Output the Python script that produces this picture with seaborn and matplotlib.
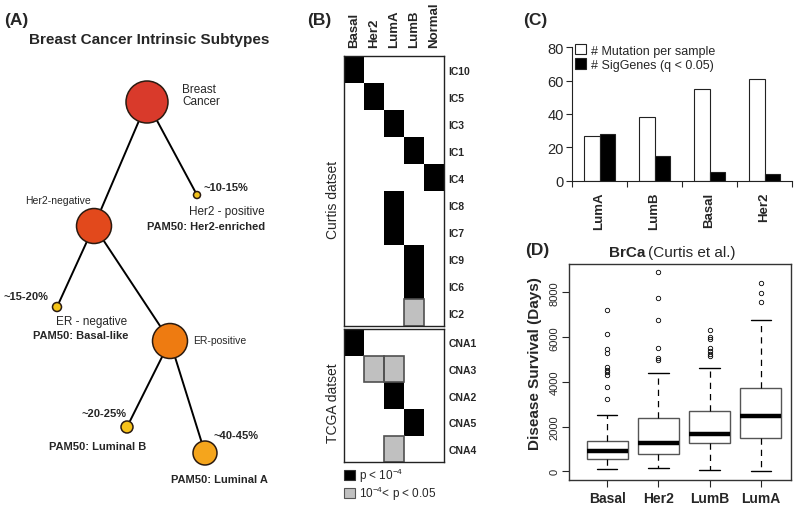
import numpy as np
import pandas as pd
import seaborn as sns
import matplotlib.pyplot as plt
from matplotlib.patches import Circle, Rectangle, Patch
from matplotlib.colors import ListedColormap

# (A) subtype tree
node_names = ['bc', 'her2neg', 'her2pos', 'basal', 'erpos', 'lumb', 'luma']
node_x = [147, 94, 197, 57, 170, 127, 205]
node_y = [103, 227, 196, 308, 342, 428, 454]
node_r = [21, 17.5, 3.5, 4.5, 17.5, 6, 12]
node_col = ['#d93a2b', '#e2491c', '#f2c21c', '#f5c518', '#ee7b11', '#f7c21a', '#f5a51c']
tree_edges = [('bc', 'her2neg'), ('bc', 'her2pos'), ('her2neg', 'basal'),
              ('her2neg', 'erpos'), ('erpos', 'lumb'), ('erpos', 'luma')]

# (B) significance of overlap (2: p < 1e-4, 1: 1e-4 < p < 0.05)
subtypes_b = ['Basal', 'Her2', 'LumA', 'LumB', 'Normal']
curtis_rows = ['IC10', 'IC5', 'IC3', 'IC1', 'IC4', 'IC8', 'IC7', 'IC9', 'IC6', 'IC2']
curtis_sig = [[2, 0, 0, 0, 0], [0, 2, 0, 0, 0], [0, 0, 2, 0, 0], [0, 0, 0, 2, 0],
              [0, 0, 0, 0, 2], [0, 0, 2, 0, 0], [0, 0, 2, 0, 0], [0, 0, 0, 2, 0],
              [0, 0, 0, 2, 0], [0, 0, 0, 1, 0]]
tcga_rows = ['CNA1', 'CNA3', 'CNA2', 'CNA5', 'CNA4']
tcga_sig = [[2, 0, 0, 0, 0], [0, 1, 1, 0, 0], [0, 0, 2, 0, 0], [0, 0, 0, 2, 0],
            [0, 0, 1, 0, 0]]

# (C) mutations
subtypes_c = ['LumA', 'LumB', 'Basal', 'Her2']
mut_per_sample = [27, 38, 55, 61]
sig_genes = [28, 15, 5, 4]

# (D) survival boxplot summary
subtypes_d = ['Basal', 'Her2', 'LumB', 'LumA']
surv_whislo = [104, 134, 75, 0]
surv_q1 = [552, 776, 1254, 1478]
surv_med = [925, 1284, 1687, 2478]
surv_q3 = [1358, 2373, 2701, 3716]
surv_whishi = [2537, 4418, 4627, 6791]
surv_fliers = [[3239, 3776, 4328, 4433, 4537, 4657, 5299, 5478, 6149, 7224],
               [4985, 5075, 5537, 6761, 7761, 8896],
               [5180, 5270, 5390, 5510, 5910, 6000, 6310],
               [7567, 7970, 8418]]

sns.set_style('white')
plt.rcParams['font.family'] = 'Liberation Sans'
plt.rcParams['mathtext.fontset'] = 'custom'
plt.rcParams['mathtext.rm'] = 'Liberation Sans'

W, H = 798, 506
fig = plt.figure(figsize=(W / 100, H / 100), dpi=100)


def box(x0, y0, x1, y1):
    return [x0 / W, 1 - y1 / H, (x1 - x0) / W, (y1 - y0) / H]


def ftext(x, y, s, **kw):
    kw.setdefault('va', 'center')
    fig.text(x / W, 1 - y / H, s, **kw)


# ---- panel A
axA = fig.add_axes([0, 0, 270 / W, 1])
axA.set_xlim(0, 270)
axA.set_ylim(H, 0)
axA.axis('off')
pos = dict(zip(node_names, zip(node_x, node_y)))
for a, b in tree_edges:
    axA.plot([pos[a][0], pos[b][0]], [pos[a][1], pos[b][1]], color='black', lw=1.4, zorder=1)
for x, y, r, c in zip(node_x, node_y, node_r, node_col):
    axA.add_patch(Circle((x, y), r, fc=c, ec='#2a1a10', lw=1.1, zorder=2))

ftext(4, 20, '(A)', fontsize=12.5, fontweight='bold')
ftext(29, 40, 'Breast Cancer Intrinsic Subtypes', fontsize=11, fontweight='bold')
ftext(182, 96, 'Breast\nCancer', fontsize=8.5, linespacing=1.1)
ftext(204, 188, '~10-15%', fontsize=8, fontweight='bold')
ftext(265, 212, 'Her2 - positive', fontsize=8.5, ha='right')
ftext(265, 227, 'PAM50: Her2-enriched', fontsize=8, fontweight='bold', ha='right')
ftext(25, 201, 'Her2-negative', fontsize=7.5)
ftext(3, 297, '~15-20%', fontsize=8, fontweight='bold')
ftext(127, 322, 'ER - negative', fontsize=8.5, ha='right')
ftext(128, 336, 'PAM50: Basal-like', fontsize=8, fontweight='bold', ha='right')
ftext(193, 341, 'ER-positive', fontsize=7.5)
ftext(127, 414, '~20-25%', fontsize=8, fontweight='bold', ha='right')
ftext(49, 447, 'PAM50: Luminal B', fontsize=8, fontweight='bold')
ftext(213, 436, '~40-45%', fontsize=8, fontweight='bold')
ftext(171, 480, 'PAM50: Luminal A', fontsize=8, fontweight='bold')

# ---- panel B
sig_cmap = ListedColormap(['white', '#c0c0c0', 'black'])


def sig_heatmap(ax, rows, vals, top_labels):
    df = pd.DataFrame(vals, index=rows, columns=subtypes_b)
    sns.heatmap(df, ax=ax, cmap=sig_cmap, vmin=0, vmax=2, cbar=False)
    for i, row in enumerate(vals):
        for j, v in enumerate(row):
            if v == 1:
                ax.add_patch(Rectangle((j, i), 1, 1, fill=False, ec='#505050', lw=1.2, clip_on=False))
    for s in ax.spines.values():
        s.set_visible(True)
        s.set_linewidth(1.0)
        s.set_color('#222222')
    ax.yaxis.tick_right()
    ax.set_yticklabels(rows, rotation=0, fontweight='bold', fontsize=7.5)
    ax.tick_params(length=0, pad=3)
    if top_labels:
        ax.xaxis.tick_top()
        ax.set_xticklabels(subtypes_b, rotation=90, fontweight='bold', fontsize=9.5)
        ax.tick_params(axis='x', pad=7)
    else:
        ax.set_xticks([])
    ax.set_xlabel('')
    ax.set_ylabel('')


axB1 = fig.add_axes(box(344, 57.3, 444, 327.3))
sig_heatmap(axB1, curtis_rows, curtis_sig, True)
axB2 = fig.add_axes(box(344, 330, 444, 463.3))
sig_heatmap(axB2, tcga_rows, tcga_sig, False)

ftext(307, 20, '(B)', fontsize=12.5, fontweight='bold')
ftext(333, 200, 'Curtis datset', fontsize=10, rotation=90, ha='center')
ftext(333, 403, 'TCGA datset', fontsize=10, rotation=90, ha='center')
fig.legend(handles=[Patch(fc='black', ec='#333333', lw=0.8), Patch(fc='#c0c0c0', ec='#555555', lw=0.8)],
           labels=[r'p < $\mathregular{10^{-4}}$', r'$\mathregular{10^{-4}}$< p < 0.05'],
           loc='upper left', bbox_to_anchor=(344 / W, 1 - 467 / H), frameon=False, fontsize=8.5,
           handlelength=0.9, handleheight=0.9, handletextpad=0.4, labelspacing=0.0,
           borderpad=0, borderaxespad=0)

# ---- panel C
axC = fig.add_axes(box(572, 48.3, 792, 181.7))
dfc = pd.DataFrame({'subtype': subtypes_c * 2,
                    'measure': ['# Mutation per sample'] * 4 + ['# SigGenes (q < 0.05)'] * 4,
                    'value': mut_per_sample + sig_genes})
sns.barplot(data=dfc, x='subtype', y='value', hue='measure', palette=['white', 'black'],
            edgecolor='#222222', linewidth=0.8, width=0.58, ax=axC)
axC.set_xlim(-0.5, 3.5)
axC.set_ylim(0, 80)
axC.set_yticks([0, 20, 40, 60, 80])
axC.tick_params(axis='y', labelsize=10.5, length=4, width=0.8, left=True, pad=2)
sns.despine(ax=axC)
axC.spines['left'].set_bounds(0, 80)
axC.spines['left'].set_color('#222222')
axC.spines['bottom'].set_color('#222222')
axC.set_xticks(np.arange(-0.5, 4, 1), labels=[''] * 5)
axC.set_xticks(range(4), minor=True)
axC.set_xticklabels(subtypes_c, minor=True, rotation=90, fontweight='bold', fontsize=9.5)
axC.tick_params(axis='x', which='major', length=4, width=0.8, bottom=True)
axC.tick_params(axis='x', which='minor', length=0, pad=8)
axC.set_xlabel('')
axC.set_ylabel('')
h, l = axC.get_legend_handles_labels()
axC.legend(h, l, loc='upper left', bbox_to_anchor=(575 / W, 1 - 45 / H), bbox_transform=fig.transFigure,
           frameon=False, fontsize=9, handlelength=0.9, handleheight=0.9, handletextpad=0.4,
           labelspacing=0.15, borderpad=0, borderaxespad=0)
ftext(523, 20, '(C)', fontsize=12.5, fontweight='bold')

# ---- panel D
axD = fig.add_axes(box(569.3, 265, 790.7, 481))
stats = [dict(whislo=a, q1=b, med=c, q3=d, whishi=e, fliers=f, label=g)
         for a, b, c, d, e, f, g in zip(surv_whislo, surv_q1, surv_med, surv_q3,
                                        surv_whishi, surv_fliers, subtypes_d)]
axD.bxp(stats, positions=[1, 2, 3, 4], widths=0.8, patch_artist=True, capwidths=0.4,
        boxprops=dict(facecolor='white', edgecolor='#555555', lw=1.0),
        medianprops=dict(color='black', lw=3.2, solid_capstyle='butt'),
        whiskerprops=dict(color='black', lw=0.9, linestyle=(0, (5, 4))),
        capprops=dict(color='black', lw=1.0),
        flierprops=dict(marker='o', markerfacecolor='none', markeredgecolor='black',
                        markersize=3.2, markeredgewidth=0.6))
axD.set_xlim(0.26, 4.58)
axD.set_ylim(-389, 9275)
axD.set_yticks([0, 2000, 4000, 6000, 8000])
axD.tick_params(axis='y', labelsize=8, length=5, width=0.8, left=True, labelrotation=90, pad=2)
for t in axD.get_yticklabels():
    t.set_va('center')
axD.set_xticks([1, 2, 3, 4], labels=subtypes_d)
axD.tick_params(axis='x', labelsize=10, length=5, width=0.8, bottom=True, pad=3)
for t in axD.get_xticklabels():
    t.set_fontweight('bold')
for s in axD.spines.values():
    s.set_color('#333333')
    s.set_linewidth(1.0)
ftext(525, 250, '(D)', fontsize=12.5, fontweight='bold')
ftext(535, 364, 'Disease Survival (Days)', fontsize=11, fontweight='bold', rotation=90, ha='center')
ftext(645, 253, 'BrCa', fontsize=11, fontweight='bold', ha='right')
ftext(648, 253, '(Curtis et al.)', fontsize=11, ha='left')

fig.savefig('out.png', dpi=100)
